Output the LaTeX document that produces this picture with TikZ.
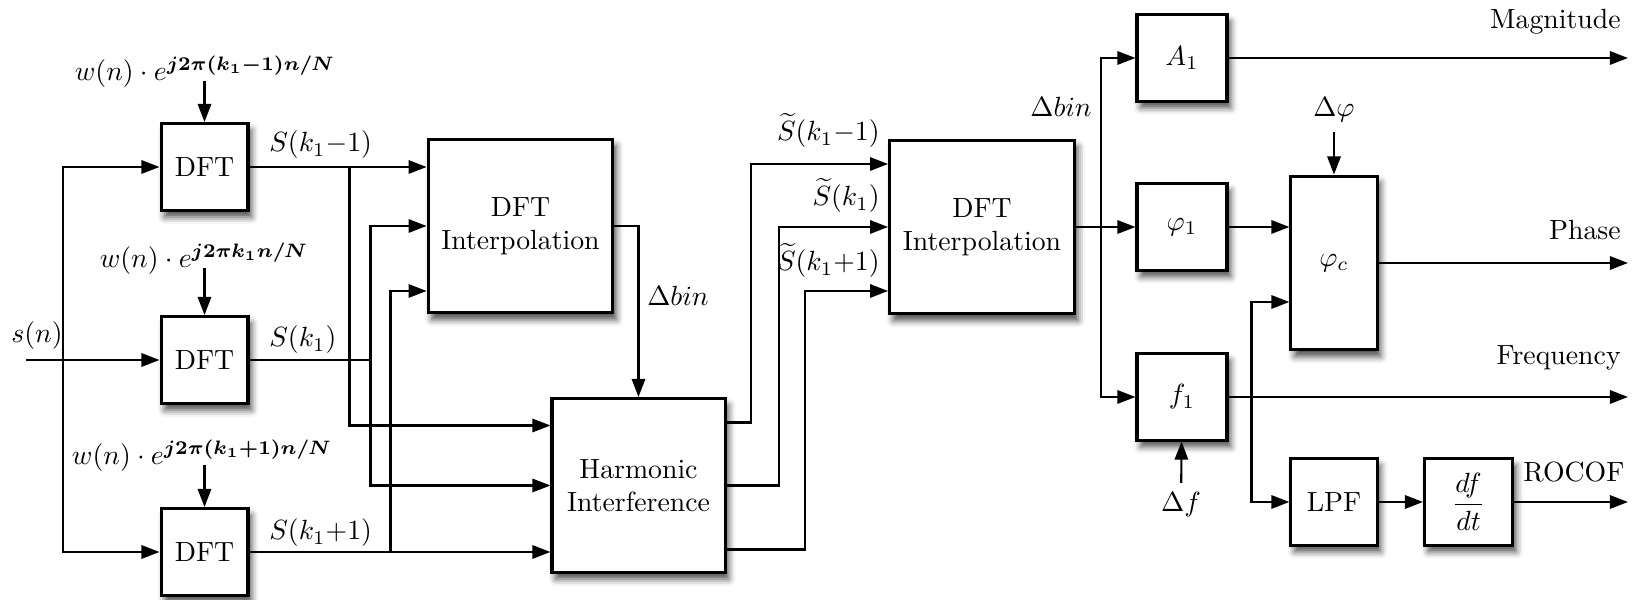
\documentclass[tikz,border=0pt]{standalone}
\usepackage{amsmath}
\usepackage{bm}
\usepackage{tikz}
\usetikzlibrary{arrows.meta,positioning,calc,shadows.blur}
\tikzset{
  blk/.style={draw, line width=1.1pt, fill=white, inner sep=0pt, align=center,
              blur shadow={shadow xshift=1.3pt, shadow yshift=-2.4pt,
                           shadow blur radius=2.4pt, shadow opacity=70}},
  dftbox/.style={blk, minimum width=31.3pt, minimum height=31.3pt},
  bigbox/.style={blk, minimum width=66.5pt, minimum height=62.6pt},
  estbox/.style={blk, minimum width=32.4pt, minimum height=31pt},
  lbl/.style={inner sep=1pt},
  arr/.style={-{Triangle[length=6.5pt,width=4.8pt]}, line width=0.75pt}}

\begin{document}
\begin{tikzpicture}[x=0.36pt, y=-0.36pt]
  \useasboundingbox (0,0) rectangle (1640,600);

  % DFT bank
  \node[dftbox] (dftA) at (204.5,167) {DFT};
  \node[dftbox] (dftB) at (204.5,360) {DFT};
  \node[dftbox] (dftC) at (204.5,552) {DFT};
  \node[anchor=base] (wA) at (205,81) {$w(n)\cdot e^{\bm{j2\pi(k_1-1)n/N}}$};
  \node[anchor=base] (wB) at (204,268) {$w(n)\cdot e^{\bm{j2\pi k_1n/N}}$};
  \node[anchor=base] (wC) at (202,465) {$w(n)\cdot e^{\bm{j2\pi(k_1+1)n/N}}$};
  \draw[arr] (wA.base -| dftA) -- (dftA);
  \draw[arr] (wB.base -| dftB) -- (dftB);
  \draw[arr] (wC.base -| dftC) -- (dftC);

  % input s(n)
  \coordinate (src) at (26,360);
  \coordinate (fork) at (63,360);
  \node[anchor=base] (sn) at (37,343) {$s(n)$};
  \draw[arr] (src) -- (dftB);
  \draw[arr] (fork) |- (dftA);
  \draw[arr] (fork) |- (dftC);

  % coarse interpolation + harmonic interference
  \node[bigbox] (interpA) at (520.5,226) {DFT\\Interpolation};
  \node[bigbox, minimum width=62.3pt] (harm) at (638.5,485.5) {Harmonic\\Interference};
  \node[lbl, anchor=base west] (sA) at (266,152) {$S(k_1{-}1)$};
  \node[lbl, anchor=base west] (sB) at (266,347) {$S(k_1)$};
  \node[lbl, anchor=base west] (sC) at (266,540) {$S(k_1{+}1)$};

  \coordinate (tapA) at ($(dftA.east)+(100,0)$);
  \coordinate (tapB) at ($(dftB.east)+(121,0)$);
  \coordinate (tapC) at ($(dftC.east)+(141,0)$);
  \draw[arr] (dftA) -- (dftA -| interpA.west);
  \draw[arr] (tapA) |- ($(harm.west)+(0,-60)$);
  \draw[arr] (dftB) -- (tapB) |- (interpA);
  \draw[arr] (tapB) |- (harm);
  \draw[arr] (dftC) -- (dftC -| harm.west);
  \draw[arr] (tapC) |- ($(interpA.west)+(0,65)$);

  \draw[arr] (interpA) -| (harm);
  \node[lbl, anchor=base west] (binA) at (644,306) {$\Delta bin$};

  % fine interpolation
  \node[bigbox] (interpB) at (982,227) {DFT\\Interpolation};
  \draw[arr] ($(harm.east)+(0,-63)$) -- ++(24,0) |- ($(interpB.west)+(0,-63)$);
  \draw[arr] (harm.east) -- ++(52,0) |- (interpB);
  \draw[arr] ($(harm.east)+(0,64)$) -- ++(78,0) |- ($(interpB.west)+(0,64)$);
  \node[lbl, anchor=base east] (tA) at (883,141) {$\widetilde{S}(k_1{-}1)$};
  \node[lbl, anchor=base east] (tB) at (883,206) {$\widetilde{S}(k_1)$};
  \node[lbl, anchor=base east] (tC) at (883,271) {$\widetilde{S}(k_1{+}1)$};

  % estimators
  \node[estbox] (ampl) at (1182,58) {$A_1$};
  \node[estbox] (phs) at (1182,227) {$\varphi_1$};
  \node[estbox] (frq) at (1182,397) {$f_1$};
  \coordinate (bus) at ($(interpB.east)+(25,0)$);
  \draw[arr] (interpB) -- (phs);
  \draw[arr] (bus) |- (ampl);
  \draw[arr] (bus) |- (frq);
  \node[lbl, anchor=base east] (binB) at (1095,117) {$\Delta bin$};

  % phase correction, LPF, derivative
  \node[blk, minimum width=31pt, minimum height=62.6pt] (phc) at (1334,263) {$\varphi_c$};
  \node[anchor=base] (dphi) at (1334,117) {$\Delta\varphi$};
  \draw[arr] (dphi) -- (phc);
  \draw[arr] (phs) -- (phs -| phc.west);
  \coordinate (ftap) at ($(frq.east)+(23,0)$);
  \draw[arr] (ftap) |- ($(phc.west)+(0,39)$);
  \node[blk, minimum width=31pt, minimum height=31pt] (lpf) at (1334,502) {LPF};
  \node[blk, minimum width=31.7pt, minimum height=31pt, right=16pt of lpf] (ddt) {$\dfrac{df}{dt}$};
  \draw[arr] (ftap) |- (lpf);
  \draw[arr] (lpf) -- (ddt);
  \node[anchor=base] (df) at (1181,512) {$\Delta f$};
  \draw[arr] (df) -- (frq);

  % outputs
  \coordinate (rim) at (1628,0);
  \draw[arr] (ampl) -- (ampl -| rim);
  \draw[arr] (phc) -- (phc -| rim);
  \draw[arr] (frq) -- (frq -| rim);
  \draw[arr] (ddt) -- (ddt -| rim);
  \node[lbl, anchor=base east] (magLbl) at (1624,29) {Magnitude};
  \node[lbl, anchor=base east] (phsLbl) at (1624,240) {Phase};
  \node[lbl, anchor=base east] (frqLbl) at (1624,365) {Frequency};
  \node[lbl, anchor=base west] (rocLbl) at (1520,482) {ROCOF};
\end{tikzpicture}
\end{document}
